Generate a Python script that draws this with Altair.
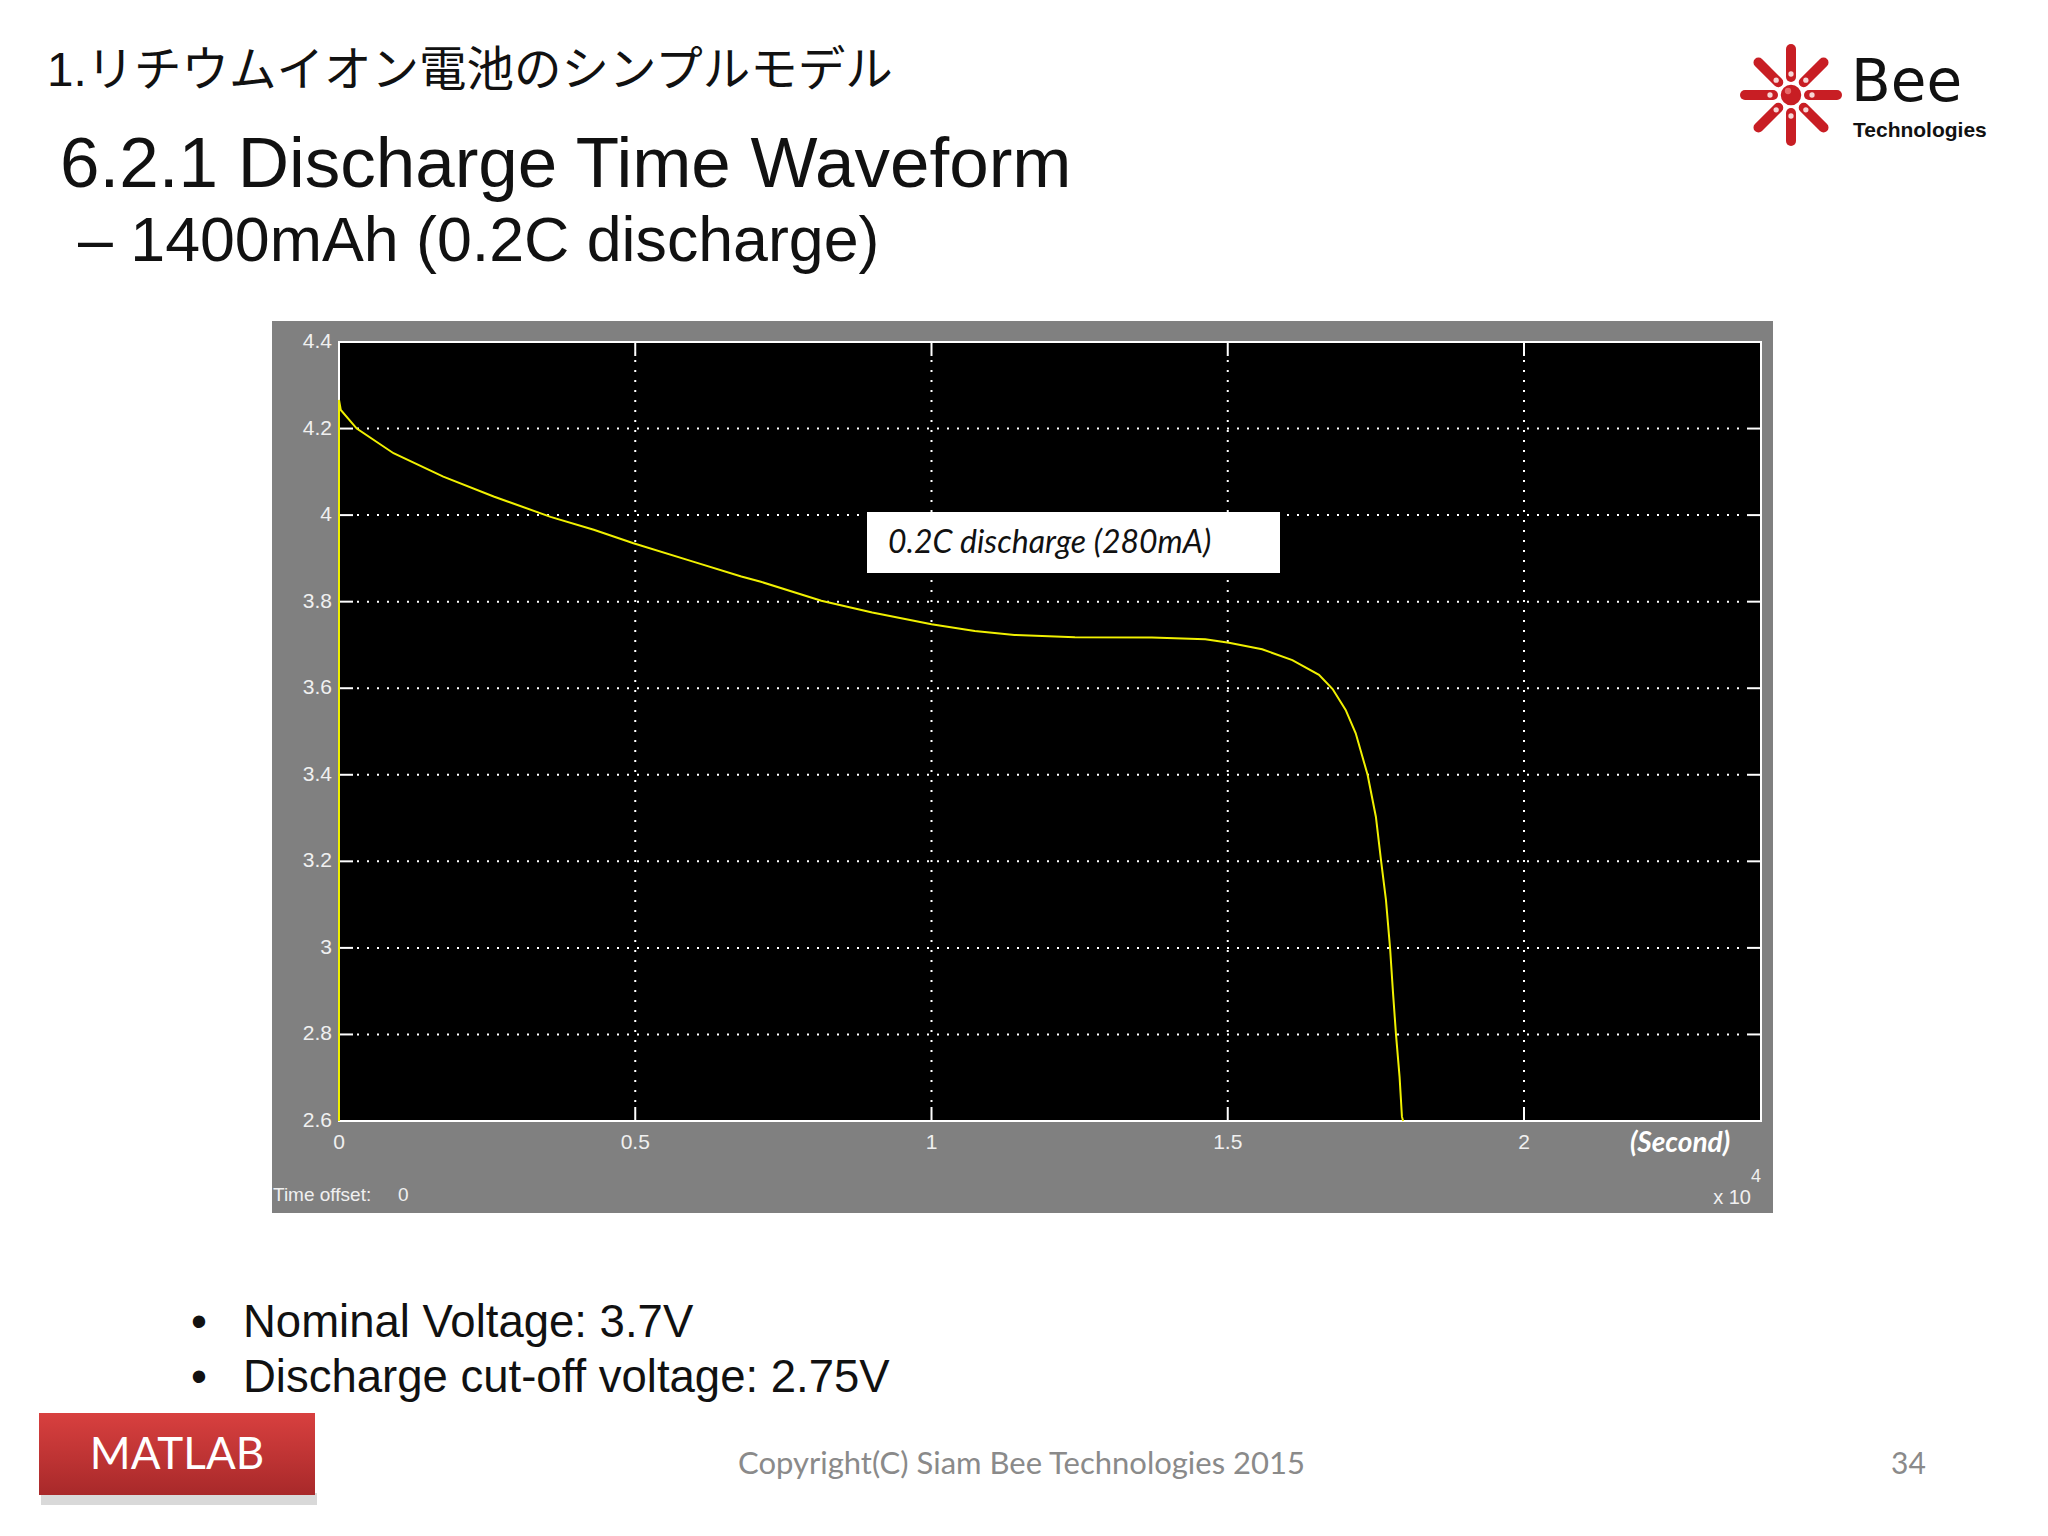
import math
import altair as alt
import pandas as pd

# ---------------- data ----------------
time_x1e4 = [0, 0, 0.003, 0.030, 0.092, 0.176, 0.261, 0.357, 0.430, 0.497, 0.599,
             0.679, 0.712, 0.814, 0.900, 1.000, 1.073, 1.140, 1.242, 1.372, 1.462,
             1.502, 1.558, 1.609, 1.654, 1.677, 1.699, 1.716, 1.736, 1.750, 1.759,
             1.767, 1.774, 1.779, 1.784, 1.790, 1.794, 1.796]
voltage = [2.600, 4.266, 4.243, 4.200, 4.143, 4.089, 4.043, 3.996, 3.966, 3.935, 3.892,
           3.858, 3.846, 3.802, 3.775, 3.748, 3.732, 3.723, 3.718, 3.717, 3.713,
           3.705, 3.690, 3.665, 3.631, 3.598, 3.550, 3.496, 3.400, 3.303, 3.199,
           3.111, 2.999, 2.895, 2.799, 2.702, 2.610, 2.600]

x_tick_values = [0, 0.5, 1, 1.5, 2]
x_tick_labels = ["0", "0.5", "1", "1.5", "2"]
y_tick_values = [2.6, 2.8, 3.0, 3.2, 3.4, 3.6, 3.8, 4.0, 4.2, 4.4]
y_tick_labels = ["2.6", "2.8", "3", "3.2", "3.4", "3.6", "3.8", "4", "4.2", "4.4"]
x_grid_values = [0.5, 1, 1.5, 2]
y_grid_values = [2.8, 3.0, 3.2, 3.4, 3.6, 3.8, 4.0, 4.2]

x_domain = [0, 2.4]
y_domain = [2.6, 4.4]

jp_title = "1.リチウムイオン電池のシンプルモデル"
title = "6.2.1 Discharge Time Waveform"
subtitle = "– 1400mAh (0.2C discharge)"
annotation = "0.2C discharge (280mA)"
bullets = ["Nominal Voltage: 3.7V", "Discharge cut-off voltage: 2.75V"]
copyright_text = "Copyright(C) Siam Bee Technologies 2015"
page_no = "34"

# ---------------- layout ----------------
W, H = 1422, 779
xs = alt.Scale(domain=x_domain, nice=False, zero=False)
ys = alt.Scale(domain=y_domain, nice=False, zero=False)
ARIAL = "Liberation Sans, Arial, sans-serif"
CALIBRI = "Lato, Open Sans, sans-serif"
TICKLEN = 14

one = pd.DataFrame({"k": [0]})


def box(x1, x2, y1, y2, **kw):
    return alt.Chart(one).mark_rect(**kw).encode(
        x=alt.value(x1), x2=alt.value(x2), y=alt.value(y1), y2=alt.value(y2))


def seg(x1, y1, x2, y2, **kw):
    return alt.Chart(one).mark_rule(**kw).encode(
        x=alt.value(x1), x2=alt.value(x2), y=alt.value(y1), y2=alt.value(y2))


def txt(text, x, y, **kw):
    return alt.Chart(one).mark_text(text=text, **kw).encode(
        x=alt.value(x), y=alt.value(y))


curve_df = pd.DataFrame({"t": time_x1e4, "v": voltage, "i": range(len(voltage))})
xlab_df = pd.DataFrame({"t": x_tick_values, "lab": x_tick_labels})
ylab_df = pd.DataFrame({"v": y_tick_values, "lab": y_tick_labels})
xgrid_df = pd.DataFrame({"t": x_grid_values})
ygrid_df = pd.DataFrame({"v": y_grid_values})

layers = []

# gray scope panel and black plot area
layers.append(box(-67, 1434, -21, 871, color="#808080"))
layers.append(box(0, W, 0, H, color="#000000"))

# dotted grid
layers.append(alt.Chart(ygrid_df).mark_rule(color="white", strokeWidth=2, strokeDash=[2, 8]).encode(
    y=alt.Y("v:Q", scale=ys, axis=None), x=alt.value(TICKLEN + 4), x2=alt.value(W - TICKLEN)))
layers.append(alt.Chart(xgrid_df).mark_rule(color="white", strokeWidth=2, strokeDash=[2, 8]).encode(
    x=alt.X("t:Q", scale=xs, axis=None), y=alt.value(TICKLEN + 4), y2=alt.value(H - TICKLEN)))

# inward ticks
for (a, b) in [(0, TICKLEN), (W - TICKLEN, W)]:
    layers.append(alt.Chart(ygrid_df).mark_rule(color="white", strokeWidth=2).encode(
        y=alt.Y("v:Q", scale=ys, axis=None), x=alt.value(a), x2=alt.value(b)))
for (a, b) in [(0, TICKLEN), (H - TICKLEN, H)]:
    layers.append(alt.Chart(xgrid_df).mark_rule(color="white", strokeWidth=2).encode(
        x=alt.X("t:Q", scale=xs, axis=None), y=alt.value(a), y2=alt.value(b)))

# frame
layers.append(box(0, W, 0, H, fillOpacity=0, stroke="white", strokeWidth=2))

# the discharge curve
layers.append(alt.Chart(curve_df).mark_line(color="#f0f000", strokeWidth=2).encode(
    x=alt.X("t:Q", scale=xs, axis=None),
    y=alt.Y("v:Q", scale=ys, axis=None),
    order=alt.Order("i:Q")))

# annotation box
layers.append(box(528, 941, 170, 231, color="white"))
layers.append(txt(annotation, 549, 201, font=CALIBRI, fontSize=32, fontStyle="italic",
                  color="#111111", align="left", baseline="middle"))

# tick labels
layers.append(alt.Chart(ylab_df).mark_text(font=ARIAL, fontSize=21, color="#f0f0f0",
                                           align="right", baseline="middle").encode(
    y=alt.Y("v:Q", scale=ys, axis=None), x=alt.value(-7), text="lab:N"))
layers.append(alt.Chart(xlab_df).mark_text(font=ARIAL, fontSize=21, color="#f0f0f0",
                                           align="center", baseline="middle").encode(
    x=alt.X("t:Q", scale=xs, axis=None), y=alt.value(H + 22), text="lab:N"))

layers.append(txt("(Second)", 1341, 802, font=CALIBRI, fontSize=28, fontStyle="italic",
                  fontWeight="bold", color="white", align="center", baseline="middle"))
layers.append(txt("x 10", 1412, 856, font=ARIAL, fontSize=20, color="#f0f0f0",
                  align="right", baseline="middle"))
layers.append(txt("4", 1417, 835, font=ARIAL, fontSize=18, color="#f0f0f0",
                  align="center", baseline="middle"))
layers.append(txt("Time offset:", -66, 853, font=ARIAL, fontSize=19, color="#f0f0f0",
                  align="left", baseline="middle"))
layers.append(txt("0", 59, 853, font=ARIAL, fontSize=19, color="#f0f0f0",
                  align="left", baseline="middle"))

# slide titles
layers.append(txt(jp_title, -292, -256, font="Liberation Sans, Noto Sans CJK JP, sans-serif",
                  fontSize=47.5, color="#111111", align="left", baseline="alphabetic"))
layers.append(txt(title, -279, -155, font=ARIAL, fontSize=71, color="#111111",
                  align="left", baseline="alphabetic"))
layers.append(txt(subtitle, -261, -81, font=ARIAL, fontSize=62.7, color="#111111",
                  align="left", baseline="alphabetic"))

# bullets
for k, b in enumerate(bullets):
    yb = 995 + 55 * k
    layers.append(txt("•", -140, yb, font=ARIAL, fontSize=45.5, color="#111111",
                      align="center", baseline="alphabetic"))
    layers.append(txt(b, -96, yb, font=ARIAL, fontSize=45.5, color="#111111",
                      align="left", baseline="alphabetic"))

# MATLAB button
layers.append(box(-298, -22, 1151, 1163, color="#d0d0d0", opacity=0.8))
layers.append(box(-300, -24, 1071, 1153, color=alt.Gradient(
    gradient="linear", x1=0, x2=0, y1=0, y2=1,
    stops=[alt.GradientStop(color="#d8403f", offset=0),
           alt.GradientStop(color="#a8292a", offset=1)])))
layers.append(txt("MATLAB", -162, 1114, font=CALIBRI, fontSize=44, color="white",
                  align="center", baseline="middle"))

# footer
layers.append(txt(copyright_text, 399, 1123, font=CALIBRI, fontSize=31, color="#8a8a8a",
                  align="left", baseline="middle"))
layers.append(txt(page_no, 1552, 1123, font=CALIBRI, fontSize=30, color="#8a8a8a",
                  align="left", baseline="middle"))

# Bee Technologies logo (top right)
cx, cy = 1452, -247
for k in range(8):
    ang = math.radians(45 * k)
    r1, r2 = 18, 46
    x1, y1 = cx + r1 * math.cos(ang), cy + r1 * math.sin(ang)
    x2, y2 = cx + r2 * math.cos(ang), cy + r2 * math.sin(ang)
    layers.append(seg(x1, y1, x2, y2, color="#c81e24", strokeWidth=10, strokeCap="round"))
    xd, yd = cx + 21 * math.cos(ang), cy + 21 * math.sin(ang)
    layers.append(alt.Chart(one).mark_circle(color="#f6d6d6", opacity=1, size=28).encode(
        x=alt.value(xd), y=alt.value(yd)))
layers.append(alt.Chart(one).mark_circle(color="#c81e24", opacity=1, size=420).encode(
    x=alt.value(cx), y=alt.value(cy)))
layers.append(alt.Chart(one).mark_circle(color="#e86a6a", opacity=1, size=40).encode(
    x=alt.value(cx - 3), y=alt.value(cy - 4)))
layers.append(txt("Bee", 1512, -241, font="DejaVu Sans, sans-serif", fontSize=58,
                  color="#111111", align="left", baseline="alphabetic"))
layers.append(txt("Technologies", 1514, -205, font=ARIAL, fontSize=21, fontWeight="bold",
                  color="#111111", align="left", baseline="alphabetic"))

chart = alt.layer(*layers).properties(
    width=W, height=H,
    padding={"left": 331, "top": 334, "right": 277, "bottom": 402},
    autosize=alt.AutoSizeParams(type="none"),
    background="#ffffff",
).configure_view(strokeWidth=0)

chart.save("out.html", embed_options={"renderer": "svg", "actions": False})
